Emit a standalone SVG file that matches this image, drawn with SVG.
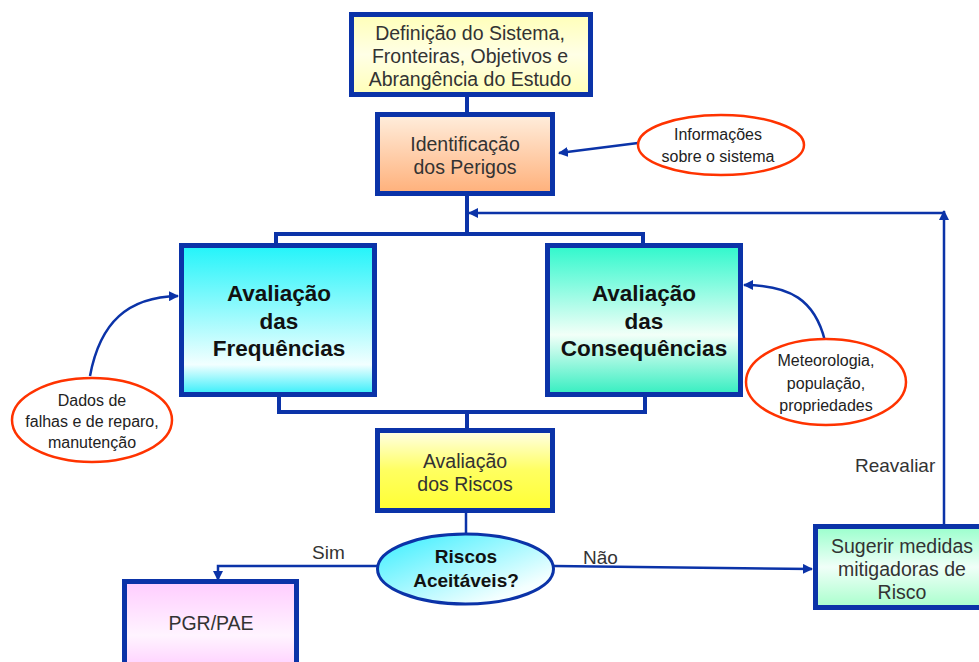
<svg xmlns="http://www.w3.org/2000/svg" width="979" height="662" viewBox="0 0 979 662">
<defs>
<linearGradient id="gY" x1="0" y1="0" x2="0" y2="1"><stop offset="0" stop-color="#ffffb8"/><stop offset="0.5" stop-color="#ffffe6"/><stop offset="1" stop-color="#ffffb8"/></linearGradient>
<linearGradient id="gO" x1="0" y1="0" x2="0" y2="1"><stop offset="0" stop-color="#ffeedd"/><stop offset="1" stop-color="#ffb07a"/></linearGradient>
<linearGradient id="gC" x1="0" y1="0" x2="0" y2="1"><stop offset="0" stop-color="#22f4fa"/><stop offset="0.8" stop-color="#f2ffff"/><stop offset="1" stop-color="#33eefa"/></linearGradient>
<linearGradient id="gT" x1="0" y1="0" x2="0" y2="1"><stop offset="0" stop-color="#2ff8cc"/><stop offset="0.6" stop-color="#f2fff8"/><stop offset="1" stop-color="#33eec0"/></linearGradient>
<linearGradient id="gR" x1="0" y1="0" x2="0" y2="1"><stop offset="0" stop-color="#ffffe8"/><stop offset="0.5" stop-color="#ffff60"/><stop offset="1" stop-color="#ffff33"/></linearGradient>
<linearGradient id="gE" x1="0" y1="0" x2="1" y2="1"><stop offset="0" stop-color="#33eeff"/><stop offset="0.8" stop-color="#f4ffff"/><stop offset="1" stop-color="#ffffff"/></linearGradient>
<linearGradient id="gP" x1="0" y1="0" x2="0" y2="1"><stop offset="0" stop-color="#ffccff"/><stop offset="0.6" stop-color="#fff4ff"/><stop offset="1" stop-color="#ffccff"/></linearGradient>
<linearGradient id="gG" x1="0" y1="0" x2="0" y2="1"><stop offset="0" stop-color="#99ffcc"/><stop offset="0.5" stop-color="#f0fff8"/><stop offset="1" stop-color="#a8ffcc"/></linearGradient>
<marker id="ah" viewBox="0 0 10 10" refX="9" refY="5" markerWidth="4" markerHeight="4" orient="auto-start-reverse" markerUnits="strokeWidth"><path d="M0,0 L10,5 L0,10 z" fill="#0b33a8"/></marker>
</defs>
<style>
.box{stroke:#0b33a8;stroke-width:5}
.oval{fill:#fff;stroke:#ff3300;stroke-width:2.5}
.con{fill:none;stroke:#0b33a8;stroke-width:4}
.thin{fill:none;stroke:#0b33a8;stroke-width:2.5}
text{font-family:"Liberation Sans",Arial,sans-serif;text-anchor:middle;fill:#333}
.t17{font-size:19.5px}
.t14{font-size:16px;fill:#222}
.b{font-size:22.5px;font-weight:bold;fill:#111}
.b17{font-size:19px;font-weight:bold;fill:#111}
.lab{font-size:19px;text-anchor:start}
</style>
<g id="connectors">
<line class="con" x1="467" y1="96" x2="467" y2="113"/>
<polyline class="con" points="467,195 467,234 276,234 276,244"/>
<polyline class="con" points="467,234 643,234 643,244"/>
<polyline class="con" points="279,396 279,412 645,412 645,396"/>
<line class="con" x1="467" y1="412" x2="467" y2="429"/>
<line class="thin" x1="466" y1="513" x2="466" y2="533" stroke-width="1.5"/>
<polyline class="thin" points="377,566 218,566 218,580" marker-end="url(#ah)"/>
<line class="thin" x1="554" y1="566" x2="812" y2="569" marker-end="url(#ah)"/>
<line class="thin" x1="944" y1="524" x2="944" y2="211" marker-end="url(#ah)"/>
<line class="thin" x1="944" y1="213" x2="469" y2="213" marker-end="url(#ah)"/>
<line class="thin" x1="638" y1="143" x2="559" y2="153" marker-end="url(#ah)"/>
<path class="thin" d="M90,376 C100,322 128,297 178,296" marker-end="url(#ah)"/>
<path class="thin" d="M825,341 C815,300 790,285 744,285" marker-end="url(#ah)"/>
<text class="lab" x="312" y="559">Sim</text>
<text class="lab" x="583" y="564">Não</text>
<text class="lab" x="855" y="472">Reavaliar</text>
</g>
<g id="definicao">
<rect class="box" x="351.5" y="14.5" width="239" height="80" fill="url(#gY)"/>
<text class="t17" x="470" y="40">Definição do Sistema,</text>
<text class="t17" x="470" y="63">Fronteiras, Objetivos e</text>
<text class="t17" x="470" y="86">Abrangência do Estudo</text>
</g>
<g id="identificacao">
<rect class="box" x="377.5" y="114.5" width="175" height="79" fill="url(#gO)"/>
<text class="t17" x="465" y="151">Identificação</text>
<text class="t17" x="465" y="174">dos Perigos</text>
</g>
<g id="frequencias">
<rect class="box" x="181.5" y="245.5" width="193" height="149" fill="url(#gC)"/>
<text class="b" x="279" y="301">Avaliação</text>
<text class="b" x="279" y="329">das</text>
<text class="b" x="279" y="356">Frequências</text>
</g>
<g id="consequencias">
<rect class="box" x="547.5" y="245.5" width="193" height="149" fill="url(#gT)"/>
<text class="b" x="644" y="301">Avaliação</text>
<text class="b" x="644" y="329">das</text>
<text class="b" x="644" y="356">Consequências</text>
</g>
<g id="riscos">
<rect class="box" x="377.5" y="430.5" width="175" height="80" fill="url(#gR)"/>
<text class="t17" x="465" y="468">Avaliação</text>
<text class="t17" x="465" y="491">dos Riscos</text>
</g>
<g id="aceitaveis">
<ellipse cx="465.5" cy="569" rx="88" ry="35" fill="url(#gE)" stroke="#0b33a8" stroke-width="3"/>
<text class="b17" x="466" y="563">Riscos</text>
<text class="b17" x="466" y="587">Aceitáveis?</text>
</g>
<g id="pgr">
<rect class="box" x="124.5" y="581.5" width="172" height="90" fill="url(#gP)"/>
<text class="t17" x="211" y="630">PGR/PAE</text>
</g>
<g id="sugerir">
<rect class="box" x="815.5" y="526.5" width="175" height="81" fill="url(#gG)"/>
<text class="t17" x="902" y="553">Sugerir medidas</text>
<text class="t17" x="902" y="576">mitigadoras de</text>
<text class="t17" x="902" y="599">Risco</text>
</g>
<g id="informacoes">
<ellipse class="oval" cx="721" cy="145" rx="83" ry="30"/>
<text class="t14" x="718" y="140">Informações</text>
<text class="t14" x="718" y="162">sobre o sistema</text>
</g>
<g id="dados">
<ellipse class="oval" cx="92" cy="420" rx="80" ry="42"/>
<text class="t14" x="92" y="406">Dados de</text>
<text class="t14" x="92" y="427">falhas e de reparo,</text>
<text class="t14" x="92" y="448">manutenção</text>
</g>
<g id="meteorologia">
<ellipse class="oval" cx="826" cy="382" rx="80" ry="43"/>
<text class="t14" x="826" y="366">Meteorologia,</text>
<text class="t14" x="826" y="389">população,</text>
<text class="t14" x="826" y="411">propriedades</text>
</g>
</svg>
